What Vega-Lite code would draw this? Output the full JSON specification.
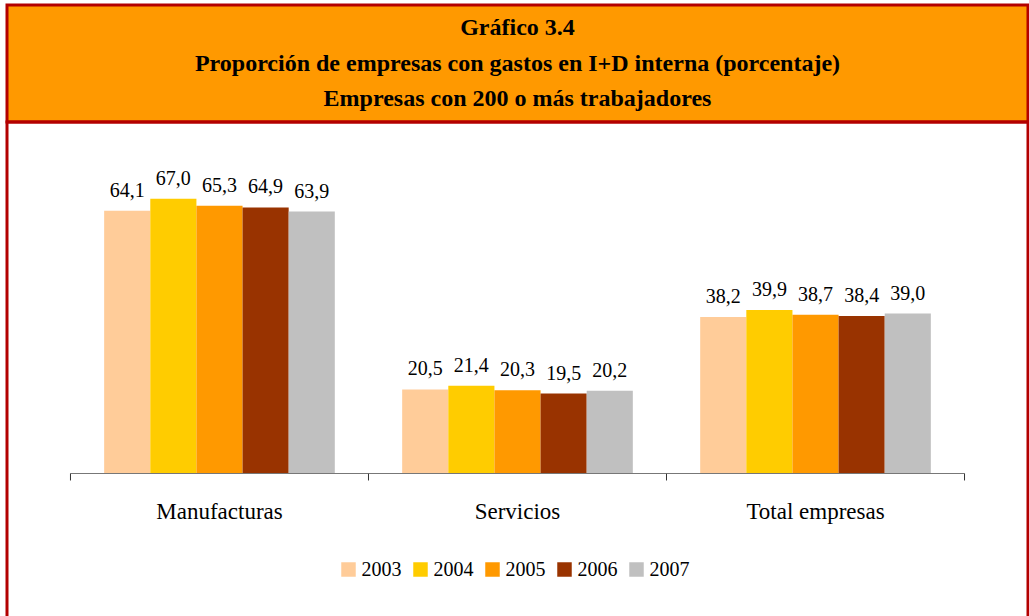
{
  "$schema": "https://vega.github.io/schema/vega-lite/v6.json",
  "background": "white",
  "padding": {"left": 5, "top": 3, "right": 0, "bottom": 0},
  "spacing": 0,
  "bounds": "flush",
  "config": {
    "locale": {"number": {"decimal": ",", "thousands": ".", "grouping": [3], "currency": ["", " €"]}},
    "font": "Liberation Serif",
    "view": {"stroke": "#B30000", "strokeWidth": 3}
  },
  "datasets": {
    "bars": [
      {"cat": "Manufacturas", "year": "2003", "value": 64.1},
      {"cat": "Manufacturas", "year": "2004", "value": 67.0},
      {"cat": "Manufacturas", "year": "2005", "value": 65.3},
      {"cat": "Manufacturas", "year": "2006", "value": 64.9},
      {"cat": "Manufacturas", "year": "2007", "value": 63.9},
      {"cat": "Servicios", "year": "2003", "value": 20.5},
      {"cat": "Servicios", "year": "2004", "value": 21.4},
      {"cat": "Servicios", "year": "2005", "value": 20.3},
      {"cat": "Servicios", "year": "2006", "value": 19.5},
      {"cat": "Servicios", "year": "2007", "value": 20.2},
      {"cat": "Total empresas", "year": "2003", "value": 38.2},
      {"cat": "Total empresas", "year": "2004", "value": 39.9},
      {"cat": "Total empresas", "year": "2005", "value": 38.7},
      {"cat": "Total empresas", "year": "2006", "value": 38.4},
      {"cat": "Total empresas", "year": "2007", "value": 39.0}
    ],
    "cats": [
      {"cat": "Manufacturas"},
      {"cat": "Servicios"},
      {"cat": "Total empresas"}
    ],
    "titles": [
      {"line": 1, "text": "Gráfico 3.4"},
      {"line": 2, "text": "Proporción de empresas con gastos en I+D interna (porcentaje)"},
      {"line": 3, "text": "Empresas con 200 o más trabajadores"}
    ]
  },
  "vconcat": [
    {
      "width": 1021,
      "height": 117,
      "view": {"fill": "#FF9900"},
      "data": {"name": "titles"},
      "mark": {"type": "text", "fontSize": 24, "fontWeight": "bold", "color": "black", "baseline": "middle", "font": "Liberation Serif"},
      "encoding": {
        "y": {"field": "line", "type": "ordinal", "scale": {"type": "point", "padding": 0.65}, "axis": null},
        "text": {"field": "text"}
      }
    },
    {
      "width": 1021,
      "height": 496,
      "layer": [
        {
          "data": {"name": "bars"},
          "mark": {"type": "bar"},
          "encoding": {
            "x": {"field": "cat", "type": "nominal", "axis": null,
                  "scale": {"domain": ["Manufacturas", "Servicios", "Total empresas"], "paddingInner": 0, "paddingOuter": 0.213}},
            "xOffset": {"field": "year", "type": "nominal", "scale": {"paddingInner": 0, "paddingOuter": 0.73}},
            "y": {"field": "value", "type": "quantitative", "axis": null,
                  "scale": {"domain": [-35.24, 85.73], "nice": false, "zero": false}},
            "y2": {"datum": 0},
            "color": {"field": "year", "type": "nominal",
                      "scale": {"domain": ["2003", "2004", "2005", "2006", "2007"], "range": ["#FFCC99", "#FFCC00", "#FF9900", "#993300", "#C0C0C0"]},
                      "legend": {"orient": "none", "direction": "horizontal", "legendX": 331.5, "legendY": 554.5, "title": null,
                                 "symbolType": "square", "symbolSize": 210, "symbolStrokeWidth": 0, "symbolOpacity": 1,
                                 "labelFont": "Liberation Serif", "labelFontSize": 20, "labelColor": "black", "labelOffset": 3,
                                 "columnPadding": 9, "padding": 0}}
          }
        },
        {
          "data": {"name": "bars"},
          "mark": {"type": "text", "fontSize": 20, "color": "black", "baseline": "alphabetic", "dy": -14, "font": "Liberation Serif"},
          "encoding": {
            "x": {"field": "cat", "type": "nominal"},
            "xOffset": {"field": "year", "type": "nominal"},
            "y": {"field": "value", "type": "quantitative"},
            "text": {"field": "value", "type": "quantitative", "format": ".1f"}
          }
        },
        {
          "data": {"name": "cats"},
          "mark": {"type": "rule", "color": "#777777", "strokeWidth": 1},
          "encoding": {
            "x": {"field": "cat", "type": "nominal", "bandPosition": 0},
            "x2": {"field": "cat", "bandPosition": 1},
            "y": {"datum": 0}
          }
        },
        {
          "data": {"name": "cats"},
          "mark": {"type": "rule", "color": "#333333", "strokeWidth": 1},
          "encoding": {
            "x": {"field": "cat", "type": "nominal", "bandPosition": 0},
            "y": {"datum": 0},
            "y2": {"datum": -1.7}
          }
        },
        {
          "data": {"name": "cats"},
          "transform": [{"filter": "datum.cat === 'Total empresas'"}],
          "mark": {"type": "rule", "color": "#333333", "strokeWidth": 1},
          "encoding": {
            "x": {"field": "cat", "type": "nominal", "bandPosition": 1},
            "y": {"datum": 0},
            "y2": {"datum": -1.7}
          }
        },
        {
          "data": {"name": "cats"},
          "mark": {"type": "text", "fontSize": 23, "color": "black", "baseline": "alphabetic", "font": "Liberation Serif"},
          "encoding": {
            "x": {"field": "cat", "type": "nominal"},
            "y": {"datum": -11},
            "text": {"field": "cat"}
          }
        }
      ]
    }
  ]
}
